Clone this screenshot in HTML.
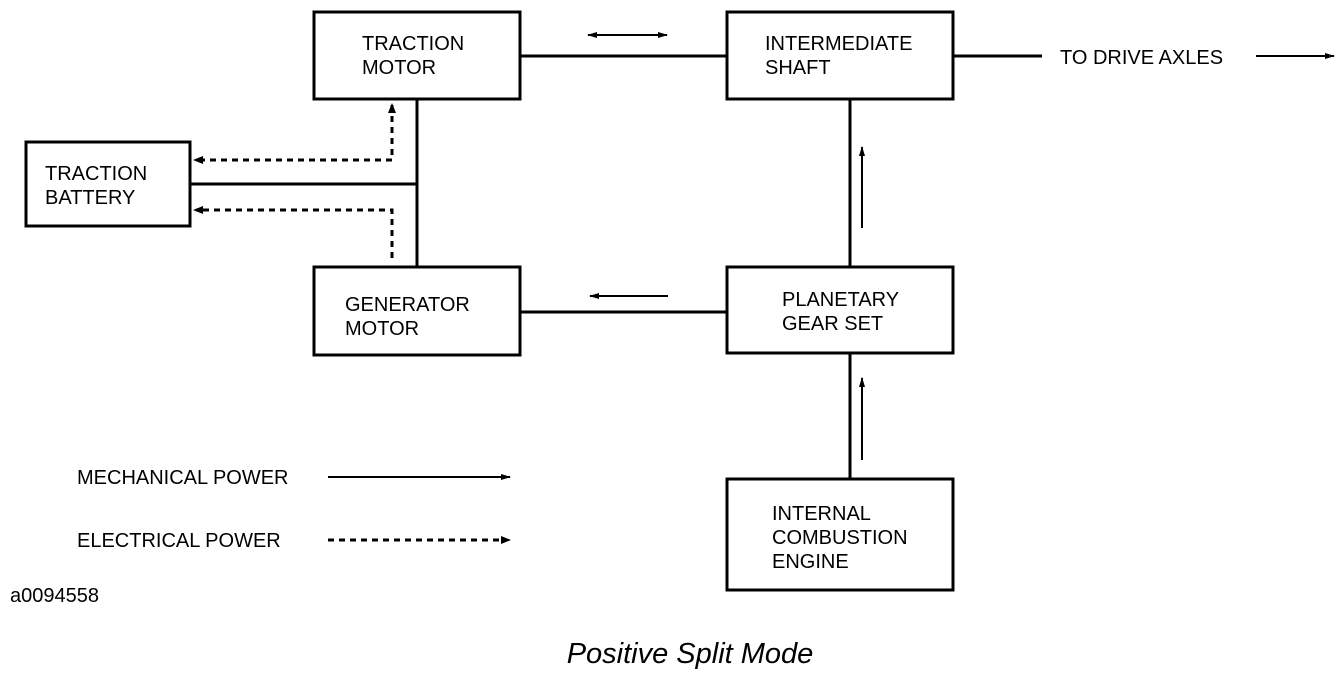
<!DOCTYPE html>
<html><head><meta charset="utf-8"><style>
html,body{margin:0;padding:0;background:#fff;}
svg{display:block;}
text{font-family:"Liberation Sans",sans-serif;font-size:20px;fill:#000;}
</style></head><body>
<svg width="1344" height="678" viewBox="0 0 1344 678" xmlns="http://www.w3.org/2000/svg">
<defs>
<marker id="a" markerWidth="10" markerHeight="8" refX="9" refY="4" orient="auto" markerUnits="userSpaceOnUse"><path d="M0,1 L10,4 L0,7 Z" fill="#000"/></marker>
<marker id="as" markerWidth="10" markerHeight="8" refX="1" refY="4" orient="auto" markerUnits="userSpaceOnUse"><path d="M10,1 L0,4 L10,7 Z" fill="#000"/></marker>
</defs>
<g fill="none" stroke="#000" stroke-width="3">
<rect x="314" y="12" width="206" height="87"/>
<rect x="727" y="12" width="226" height="87"/>
<rect x="26" y="142" width="164" height="84"/>
<rect x="314" y="267" width="206" height="88"/>
<rect x="727" y="267" width="226" height="86"/>
<rect x="727" y="479" width="226" height="111"/>
<line x1="520" y1="56" x2="727" y2="56"/>
<line x1="953" y1="56" x2="1042" y2="56"/>
<line x1="417" y1="99" x2="417" y2="267"/>
<line x1="190" y1="184" x2="417" y2="184"/>
<line x1="520" y1="312" x2="727" y2="312"/>
<line x1="850" y1="99" x2="850" y2="267"/>
<line x1="850" y1="353" x2="850" y2="479"/>
</g>
<g fill="none" stroke="#000" stroke-width="2">
<line x1="588" y1="35" x2="667" y2="35" marker-start="url(#as)" marker-end="url(#a)"/>
<line x1="668" y1="296" x2="590" y2="296" marker-end="url(#a)"/>
<line x1="862" y1="228" x2="862" y2="147" marker-end="url(#a)"/>
<line x1="862" y1="460" x2="862" y2="378" marker-end="url(#a)"/>
<line x1="1256" y1="56" x2="1334" y2="56" marker-end="url(#a)"/>
<line x1="328" y1="477" x2="510" y2="477" marker-end="url(#a)"/>
</g>
<g fill="none" stroke="#000" stroke-width="3" stroke-dasharray="6,5">
<polyline points="392,105 392,160 196,160" />
<polyline points="392,258 392,210 196,210" />
<line x1="328" y1="540" x2="504" y2="540"/>
</g>
<g fill="#000">
<path d="M392,103 L388,113 L396,113 Z"/>
<path d="M193,160 L203,156 L203,164 Z"/>
<path d="M193,210 L203,206 L203,214 Z"/>
<path d="M511,540 L501,536 L501,544 Z"/>
</g>
<text x="362" y="50">TRACTION</text>
<text x="362" y="74">MOTOR</text>
<text x="765" y="50">INTERMEDIATE</text>
<text x="765" y="74">SHAFT</text>
<text x="45" y="180">TRACTION</text>
<text x="45" y="204">BATTERY</text>
<text x="345" y="311">GENERATOR</text>
<text x="345" y="335">MOTOR</text>
<text x="782" y="306">PLANETARY</text>
<text x="782" y="330">GEAR SET</text>
<text x="772" y="520">INTERNAL</text>
<text x="772" y="544">COMBUSTION</text>
<text x="772" y="568">ENGINE</text>
<text x="1060" y="64">TO DRIVE AXLES</text>
<text x="77" y="484">MECHANICAL POWER</text>
<text x="77" y="547">ELECTRICAL POWER</text>
<text x="10" y="602">a0094558</text>
<text x="690" y="663" text-anchor="middle" style="font-size:29px;font-style:italic">Positive Split Mode</text>
</svg>
</body></html>
